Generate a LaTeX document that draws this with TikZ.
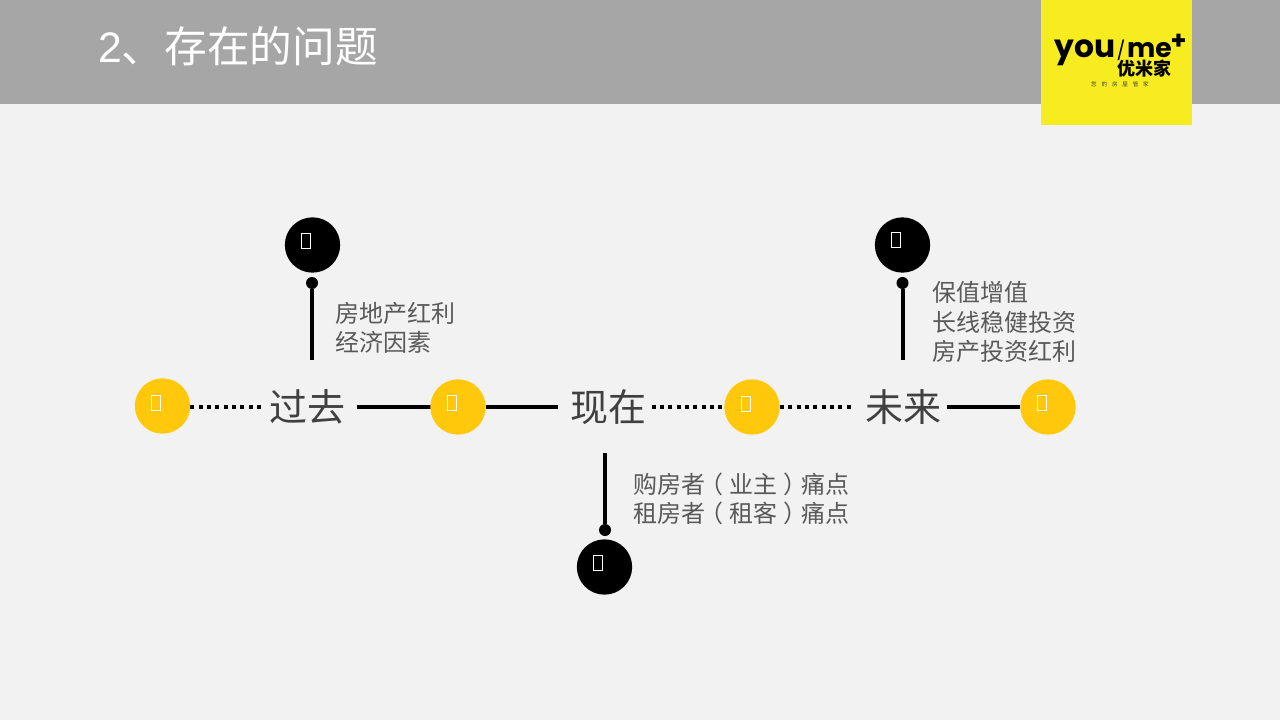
\documentclass[tikz,border=0pt]{standalone}
\usepackage{fontspec}
\setmainfont{Liberation Sans}
\newfontfamily\cjk{Noto Sans CJK SC}
\newfontfamily\logofont{Poppins}[BoldFont={* Bold}]
\newcommand{\lpar}{\kern-.25em（\kern.25em}
\newcommand{\rpar}{\kern.25em）\kern-.25em}
\usetikzlibrary{backgrounds}
\definecolor{barc}{HTML}{A6A6A6}
\definecolor{paper}{HTML}{F2F2F2}
\definecolor{logoy}{HTML}{F7EC20}
\definecolor{amber}{HTML}{FFC80A}
\definecolor{bigtxt}{HTML}{404040}
\definecolor{smalltxt}{HTML}{595959}
\tikzset{
  x=0.75pt,y=-0.75pt,
  yball/.style={circle,fill=amber,draw=none,minimum size=41.5pt,inner sep=0pt},
  kball/.style={circle,fill=black,draw=none,minimum size=41.5pt,inner sep=0pt},
  knob/.style={circle,fill=black,draw=none,minimum size=9pt,inner sep=0pt},
  tofu/.style={rectangle,draw=white,line width=1.2pt,fill=none,minimum width=7pt,minimum height=11pt,inner sep=0pt},
  big/.style={font=\fontsize{28.5}{28.5}\selectfont\cjk,text=bigtxt,inner sep=0pt,minimum width=57pt,minimum height=30pt},
  note/.style={font=\fontsize{18}{21.8}\selectfont\cjk,text=smalltxt,align=left,anchor=west,inner sep=0pt},
  solidline/.style={line width=3pt,draw=black},
  dotline/.style={line width=3pt,draw=black,dash pattern=on 3pt off 3.25pt},
  logotxt/.style={inner sep=0pt,text=black,font=\fontsize{23.5}{23.5}\selectfont\logofont\bfseries},
}
\begin{document}
\begin{tikzpicture}
\useasboundingbox (0,0) rectangle (1280,720);
% nodes
\node[yball] (y1) at (162.5,406) {};
\node[yball] (y2) at (458,407) {};
\node[yball] (y3) at (752,407) {};
\node[yball] (y4) at (1048,407) {};
\node[kball] (k1) at (312.5,245) {};
\node[kball] (k2) at (902.5,245) {};
\node[kball] (k3) at (604.5,567) {};
\node[knob] (d1) at (312,283) {};
\node[knob] (d2) at (902.5,283) {};
\node[knob] (d3) at (605,530) {};
\node[tofu] (t1) at (156,403) {};
\node[tofu] (t2) at (452,403) {};
\node[tofu] (t3) at (746,404) {};
\node[tofu] (t4) at (1042,403) {};
\node[tofu] (t5) at (306,241) {};
\node[tofu] (t6) at (896,240) {};
\node[tofu] (t7) at (598,563) {};
\node[big] (past) at (307.5,407) {过去};
\node[big] (now) at (608.5,407) {现在};
\node[big] (future) at (903,407) {未来};
\coordinate (e1) at (312,360);
\coordinate (e2) at (902.5,360);
\coordinate (e3) at (605,453);
\node[note] (n1) at (335,328) {房地产红利\\经济因素};
\node[note] (n2) at (932,322) {保值增值\\长线稳健投资\\房产投资红利};
\node[note] (n3) at (633,499) {购房者\lpar 业主\rpar 痛点\\租房者\lpar 租客\rpar 痛点};
\node[anchor=west,inner sep=0pt,text=white,font=\fontsize{32}{32}\selectfont] (title) at (98,46) {2{\cjk 、存在的问题}};
% logo
\node[logotxt,anchor=base west] (lg1) at (1054,58) {you};
\node[anchor=center,inner sep=0pt,text=black,font=\fontsize{14}{14}\selectfont\logofont] (lgs) at (1121,50) {/};
\node[logotxt,anchor=base east,font=\fontsize{20}{20}\selectfont\logofont\bfseries] (lg2) at (1172,58) {me};
\node[anchor=center,inner sep=0pt,font=\fontsize{19}{19}\selectfont\logofont\bfseries,text=black] (lg5) at (1178.5,41.5) {+};
\node[anchor=center,inner sep=0pt,font=\fontsize{13.5}{13.5}\selectfont\cjk\bfseries,text=black] (lg3) at (1144,69) {优米家};
\node[anchor=center,inner sep=0pt,font=\fontsize{4.2}{5}\selectfont\cjk,text=black!75] (lg4) at (1120,84) {您\hspace{3.6pt}的\hspace{3.6pt}房\hspace{3.6pt}屋\hspace{3.6pt}管\hspace{3.6pt}家};
\begin{scope}[on background layer]
  \fill[paper] (0,0) rectangle (1280,720);
  \fill[barc] (0,0) rectangle (1280,104);
  \fill[logoy] (1041,0) rectangle (1192,125);
  \draw[dotline,shorten >=5.5*0.75pt] (y1.east |- past) -- (past.west);
  \draw[solidline,shorten >=-1pt] (past.east) ++(11.5,0) -- (y2);
  \draw[solidline,shorten >=12.5*0.75pt] (y2) -- (now.west);
  \draw[dotline,shorten >=-4pt] (now.east) ++(5,0) -- (y3);
  \draw[dotline,shorten >=10*0.75pt] (y3) -- (future.west);
  \draw[solidline] (future.east) ++(6,0) -- (y4);
  \draw[solidline] (d1) -- (e1);
  \draw[solidline] (d2) -- (e2);
  \draw[solidline] (d3) -- (e3);
\end{scope}
\end{tikzpicture}
\end{document}
